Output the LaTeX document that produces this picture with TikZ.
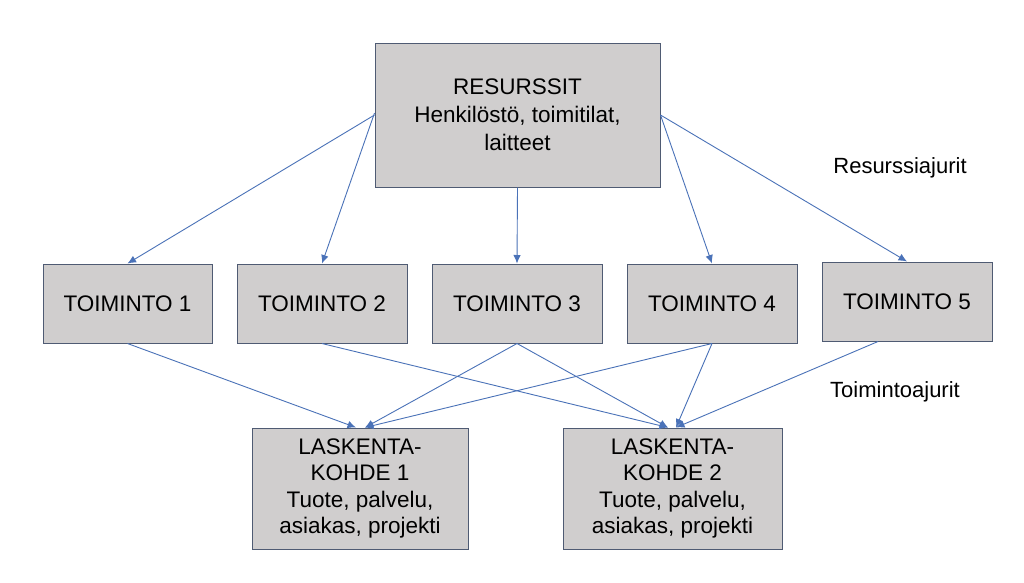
\documentclass[tikz,border=0pt]{standalone}
\usepackage{fontspec}
\setmainfont{Liberation Sans}
\usetikzlibrary{arrows.meta}
\definecolor{boxfill}{HTML}{D0CECE}
\definecolor{boxline}{HTML}{4F5B73}
\definecolor{arrowc}{HTML}{4A72B8}
\begin{document}
\begin{tikzpicture}[x=1pt,y=-1pt,
  box/.style={draw=boxline,fill=boxfill,line width=1pt,align=center,inner sep=0pt,
    font=\fontsize{22.5}{28}\selectfont},
  conn/.style={draw=arrowc,line width=0.9pt,-{Latex[length=8.5pt,width=7.5pt]}},
  lbl/.style={font=\fontsize{22}{26}\selectfont,inner sep=0pt}]
\fill[white] (0,0) rectangle (1024,582);
\useasboundingbox (0,0) rectangle (1024,582);
\node[box,minimum width=285pt,minimum height=144pt] (res) at (517.5,115) {RESURSSIT\\Henkilöstö, toimitilat,\\laitteet};
\node[box,minimum width=169pt,minimum height=79pt] (t1) at (127.5,303.5) {TOIMINTO 1};
\node[box,minimum width=170pt,minimum height=79pt] (t2) at (322,303.5) {TOIMINTO 2};
\node[box,minimum width=170pt,minimum height=79pt] (t3) at (517,303.5) {TOIMINTO 3};
\node[box,minimum width=170pt,minimum height=79pt] (t4) at (712,303.5) {TOIMINTO 4};
\node[box,minimum width=170pt,minimum height=79pt] (t5) at (907,301.5) {TOIMINTO 5};
\node[box,font=\fontsize{22.5}{26.5}\selectfont,minimum width=216pt,minimum height=121pt] (l1) at (360,488.5) {LASKENTA-\\KOHDE 1\\Tuote, palvelu,\\asiakas, projekti};
\node[box,font=\fontsize{22.5}{26.5}\selectfont,minimum width=219pt,minimum height=121pt] (l2) at (672.5,488.5) {LASKENTA-\\KOHDE 2\\Tuote, palvelu,\\asiakas, projekti};
\node[lbl] (rl) at (900,168) {Resurssiajurit};
\node[lbl] (tl) at (895,392) {Toimintoajurit};
% resource drivers
\draw[conn] (res.west) -- (t1.north);
\draw[conn] ([yshift=2pt]res.west) -- (t2.north);
\draw[conn] (res.south) -- (t3.north);
\draw[conn] (res.east) -- (t4.north);
\draw[conn] (res.east) -- (t5.north);
% activity drivers
\draw[conn] (t1.south) -- ([xshift=-4pt]l1.north);
\draw[conn] (t3.south) -- ([xshift=5pt]l1.north);
\draw[conn] (t4.south) -- ([xshift=5pt]l1.north);
\draw[conn] (t2.south) -- ([xshift=-4.5pt]l2.north);
\draw[conn] (t3.south) -- ([xshift=-4.5pt]l2.north);
\draw[conn] (t4.south) -- ([xshift=3.5pt]l2.north);
\draw[conn] ([xshift=-29pt]t5.south) -- ([xshift=3.5pt]l2.north);
\end{tikzpicture}
\end{document}
